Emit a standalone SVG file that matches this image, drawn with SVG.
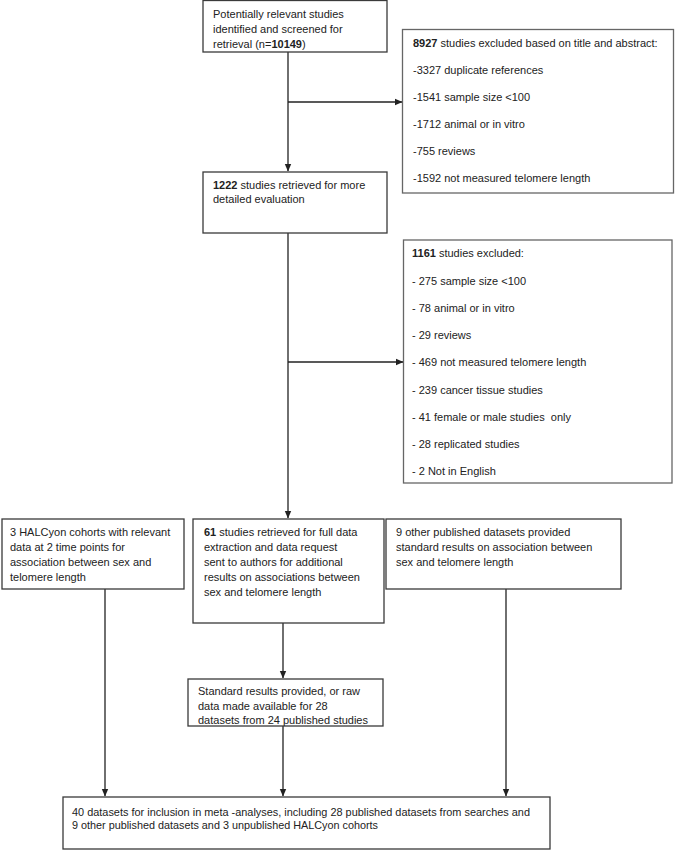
<svg xmlns="http://www.w3.org/2000/svg" width="675" height="851" viewBox="0 0 675 851">
<defs>
<style>
.box{fill:#fff;stroke:#3a3a3a;stroke-width:1.3}
.box2{fill:#fff;stroke:#666;stroke-width:1.3}
text{font-family:"Liberation Sans",Arial,sans-serif;font-size:11px;fill:#222}
.sm{font-size:10.5px}
.ln{fill:none;stroke:#222;stroke-width:1.3}
</style>
<marker id="ah" markerWidth="8" markerHeight="8" refX="7" refY="4" orient="auto" markerUnits="userSpaceOnUse">
<path d="M0,0.8 L7.5,4 L0,7.2 Z" fill="#222"/>
</marker>
</defs>
<rect width="675" height="851" fill="#fff"/>
<g id="connectors">
<path class="ln" d="M288,52 V171" marker-end="url(#ah)"/>
<path class="ln" d="M288,102 H402" marker-end="url(#ah)"/>
<path class="ln" d="M288,233 V518" marker-end="url(#ah)"/>
<path class="ln" d="M288,362 H403" marker-end="url(#ah)"/>
<path class="ln" d="M283,623 V678" marker-end="url(#ah)"/>
<path class="ln" d="M283,726 V796" marker-end="url(#ah)"/>
<path class="ln" d="M105,589 V796" marker-end="url(#ah)"/>
<path class="ln" d="M506,589 V796" marker-end="url(#ah)"/>
</g>
<g id="n1">
<rect class="box" x="203" y="0.5" width="184" height="51.5"/>
<text x="213" y="18">Potentially relevant studies</text>
<text x="213" y="33">identified and screened for</text>
<text x="213" y="47.5">retrieval (n=<tspan font-weight="bold">10149</tspan>)</text>
</g>
<g id="n2">
<rect class="box2" x="402.5" y="29.5" width="271" height="163.5"/>
<text x="413" y="47"><tspan font-weight="bold">8927</tspan> studies excluded based on title and abstract:</text>
<text x="413" y="73.5">-3327 duplicate references</text>
<text x="413" y="100.5">-1541 sample size &lt;100</text>
<text x="413" y="127.5">-1712 animal or in vitro</text>
<text x="413" y="154.5">-755 reviews</text>
<text x="413" y="182">-1592 not measured telomere length</text>
</g>
<g id="n3">
<rect class="box" x="203" y="172" width="184" height="61"/>
<text x="213" y="189"><tspan font-weight="bold">1222</tspan> studies retrieved for more</text>
<text x="213" y="203">detailed evaluation</text>
</g>
<g id="n4">
<rect class="box2" x="403.5" y="240" width="268.5" height="243"/>
<text x="412" y="257"><tspan font-weight="bold">1161</tspan> studies excluded:</text>
<text x="412" y="284.5">- 275 sample size &lt;100</text>
<text x="412" y="311.5">- 78 animal or in vitro</text>
<text x="412" y="339">- 29 reviews</text>
<text x="412" y="366">- 469 not measured telomere length</text>
<text x="412" y="393.5">- 239 cancer tissue studies</text>
<text x="412" y="421" xml:space="preserve">- 41 female or male studies  only</text>
<text x="412" y="448">- 28 replicated studies</text>
<text x="412" y="475">- 2 Not in English</text>
</g>
<g id="n5">
<rect class="box" x="2" y="519" width="182" height="70"/>
<text x="10" y="536">3 HALCyon cohorts with relevant</text>
<text x="10" y="551">data at 2 time points for</text>
<text x="10" y="566">association between sex and</text>
<text x="10" y="581">telomere length</text>
</g>
<g id="n6">
<rect class="box" x="193" y="519" width="191" height="104"/>
<text x="204" y="536"><tspan font-weight="bold">61</tspan> studies retrieved for full data</text>
<text x="204" y="551">extraction and data request</text>
<text x="204" y="566">sent to authors for additional</text>
<text x="204" y="581">results on associations between</text>
<text x="204" y="596">sex and telomere length</text>
</g>
<g id="n7">
<rect class="box" x="386" y="519" width="235" height="70"/>
<text x="396" y="536">9 other published datasets provided</text>
<text x="396" y="551">standard results on association between</text>
<text x="396" y="566">sex and telomere length</text>
</g>
<g id="n8">
<rect class="box" x="188" y="679" width="195" height="47"/>
<text x="198" y="695">Standard results provided, or raw</text>
<text x="198" y="709.5">data made available for 28</text>
<text x="198" y="724">datasets from 24 published studies</text>
</g>
<g id="n9">
<rect class="box" x="63" y="797" width="487" height="52"/>
<text class="sm" x="72" y="815.5" textLength="458" lengthAdjust="spacingAndGlyphs">40 datasets for inclusion in meta -analyses, including 28 published datasets from searches and</text>
<text class="sm" x="72" y="829" textLength="306" lengthAdjust="spacingAndGlyphs">9 other published datasets and 3 unpublished HALCyon cohorts</text>
</g>
</svg>
